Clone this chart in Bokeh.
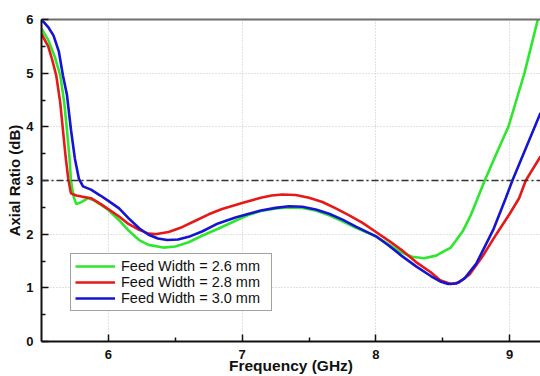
from bokeh.plotting import figure
from bokeh.models import (Span, Legend, LegendItem, LinearAxis, FixedTicker, Range1d)
from bokeh.embed import file_html
from bokeh.resources import INLINE

# ---- data ----
freq_26 = [5.50, 5.55, 5.60, 5.64, 5.67, 5.69, 5.71, 5.72, 5.74, 5.76, 5.80, 5.85, 5.90, 6.00,
           6.08, 6.15, 6.23, 6.30, 6.41, 6.50, 6.60, 6.70, 6.82, 6.95, 7.05, 7.14, 7.25, 7.35,
           7.45, 7.55, 7.65, 7.75, 7.85, 8.00, 8.10, 8.19, 8.27, 8.36, 8.45, 8.50, 8.56, 8.65,
           8.71, 8.76, 8.81, 8.90, 8.99, 9.05, 9.11, 9.16, 9.21]
ar_26 = [5.83, 5.62, 5.30, 4.96, 4.45, 3.95, 3.40, 3.00, 2.70, 2.56, 2.60, 2.67, 2.62, 2.45,
         2.26, 2.07, 1.89, 1.80, 1.75, 1.77, 1.85, 1.97, 2.10, 2.25, 2.36, 2.43, 2.48, 2.50,
         2.49, 2.44, 2.35, 2.24, 2.12, 1.96, 1.80, 1.66, 1.58, 1.55, 1.60, 1.67, 1.75, 2.06,
         2.36, 2.67, 2.98, 3.50, 4.00, 4.50, 5.00, 5.50, 6.00]

freq_28 = [5.50, 5.55, 5.58, 5.61, 5.64, 5.66, 5.68, 5.70, 5.72, 5.76, 5.80, 5.87, 5.95, 6.08,
           6.15, 6.23, 6.30, 6.35, 6.45, 6.55, 6.65, 6.75, 6.85, 7.00, 7.14, 7.22, 7.30, 7.40,
           7.50, 7.60, 7.70, 7.80, 7.90, 8.00, 8.10, 8.19, 8.30, 8.41, 8.48, 8.56, 8.62, 8.70,
           8.80, 8.90, 9.00, 9.07, 9.12, 9.23]
ar_28 = [5.73, 5.50, 5.25, 4.96, 4.45, 3.95, 3.45, 3.03, 2.76, 2.72, 2.70, 2.67, 2.55, 2.33,
         2.19, 2.08, 2.01, 2.00, 2.04, 2.13, 2.25, 2.37, 2.47, 2.58, 2.68, 2.72, 2.74, 2.73,
         2.68, 2.60, 2.48, 2.35, 2.21, 2.04, 1.87, 1.71, 1.48, 1.29, 1.14, 1.07, 1.10, 1.25,
         1.60, 2.00, 2.38, 2.67, 3.00, 3.45]

freq_30 = [5.50, 5.55, 5.59, 5.63, 5.66, 5.69, 5.72, 5.75, 5.78, 5.81, 5.87, 5.94, 6.00, 6.08,
           6.15, 6.23, 6.30, 6.37, 6.44, 6.52, 6.60, 6.70, 6.82, 6.95, 7.05, 7.14, 7.25, 7.35,
           7.45, 7.55, 7.65, 7.75, 7.85, 8.00, 8.10, 8.19, 8.30, 8.41, 8.48, 8.54, 8.60, 8.66,
           8.75, 8.88, 8.97, 9.02, 9.23]
ar_30 = [6.00, 5.86, 5.70, 5.40, 4.96, 4.60, 3.95, 3.40, 3.03, 2.89, 2.83, 2.72, 2.62, 2.48,
         2.30, 2.11, 1.99, 1.92, 1.89, 1.90, 1.95, 2.05, 2.20, 2.31, 2.38, 2.44, 2.49, 2.52,
         2.51, 2.46, 2.38, 2.27, 2.14, 1.96, 1.78, 1.60, 1.40, 1.22, 1.12, 1.07, 1.08, 1.17,
         1.45, 2.10, 2.67, 3.00, 4.26]

labels = ["Feed Width = 2.6 mm", "Feed Width = 2.8 mm", "Feed Width = 3.0 mm"]
colors = ["#2ee62e", "#e61919", "#1414d2"]
x_ticks = [6, 7, 8, 9]
x_minor = [6.5, 7.5, 8.5]
y_ticks = [0, 1, 2, 3, 4, 5, 6]
y_minor = [0.5, 1.5, 2.5, 3.5, 4.5, 5.5]
threshold = 3

FONT = "Liberation Sans"

p = figure(frame_width=499, frame_height=322, output_backend="svg", toolbar_location=None,
           x_range=Range1d(5.5, 9.23), y_range=Range1d(0, 6),
           min_border_left=41, min_border_top=19, min_border_right=0, min_border_bottom=0)
p.outline_line_color = None
p.background_fill_color = "white"

r1 = p.line(freq_26, ar_26, line_color=colors[0], line_width=2.6)
r2 = p.line(freq_28, ar_28, line_color=colors[1], line_width=2.6)
r3 = p.line(freq_30, ar_30, line_color=colors[2], line_width=2.6)

p.add_layout(Span(location=threshold, dimension="width", line_color="#333333",
                  line_width=1.4, line_dash="7 3 2 3"))

for ax, ticks, minor in ((p.xaxis[0], x_ticks, x_minor), (p.yaxis[0], y_ticks, y_minor)):
    ax.ticker = FixedTicker(ticks=ticks, minor_ticks=minor)
    ax.axis_line_color = "#111111"
    ax.axis_line_width = 2
    ax.major_tick_in = 7
    ax.major_tick_out = 0
    ax.minor_tick_in = 4
    ax.minor_tick_out = 0
    ax.major_tick_line_color = "#111111"
    ax.minor_tick_line_color = "#111111"
    ax.major_tick_line_width = 1.5
    ax.minor_tick_line_width = 1.5
    ax.major_label_text_font = FONT
    ax.major_label_text_font_style = "bold"
    ax.major_label_text_font_size = "13px"
    ax.major_label_text_color = "#111111"
    ax.axis_label_text_font = FONT
    ax.axis_label_text_font_style = "bold"
    ax.axis_label_text_color = "#111111"

p.xaxis.axis_label = "Frequency (GHz)"
p.yaxis.axis_label = "Axial Ratio (dB)"
p.xaxis.axis_label_text_font_size = "15.5px"
p.yaxis.axis_label_text_font_size = "15px"
p.xaxis.major_label_standoff = 8
p.xaxis.axis_label_standoff = -5
p.yaxis.major_label_standoff = 8
p.yaxis.axis_label_standoff = 0

top = LinearAxis(ticker=FixedTicker(ticks=[]), axis_line_color="#6e6e6e", axis_line_width=2,
                 major_label_standoff=0, major_tick_in=0, major_tick_out=0,
                 minor_tick_in=0, minor_tick_out=0)
p.add_layout(top, "above")

for g, t in ((p.xgrid[0], x_ticks), (p.ygrid[0], y_ticks)):
    g.ticker = FixedTicker(ticks=t)
    g.grid_line_color = "#c4c4c4"
    g.grid_line_dash = "1 2"
    g.grid_line_width = 1

legend = Legend(items=[LegendItem(label=labels[0], renderers=[r1]),
                       LegendItem(label=labels[1], renderers=[r2]),
                       LegendItem(label=labels[2], renderers=[r3])],
                location=(29, 30), padding=4, spacing=0, margin=0,
                glyph_width=40, glyph_height=16, label_height=16, label_standoff=6,
                label_width=146,
                label_text_font=FONT, label_text_font_size="14.5px", label_text_color="#111111",
                border_line_color="#444444", border_line_width=1,
                background_fill_color="white", background_fill_alpha=1.0)
p.add_layout(legend, "center")

open("out.html", "w").write(file_html(p, INLINE))
